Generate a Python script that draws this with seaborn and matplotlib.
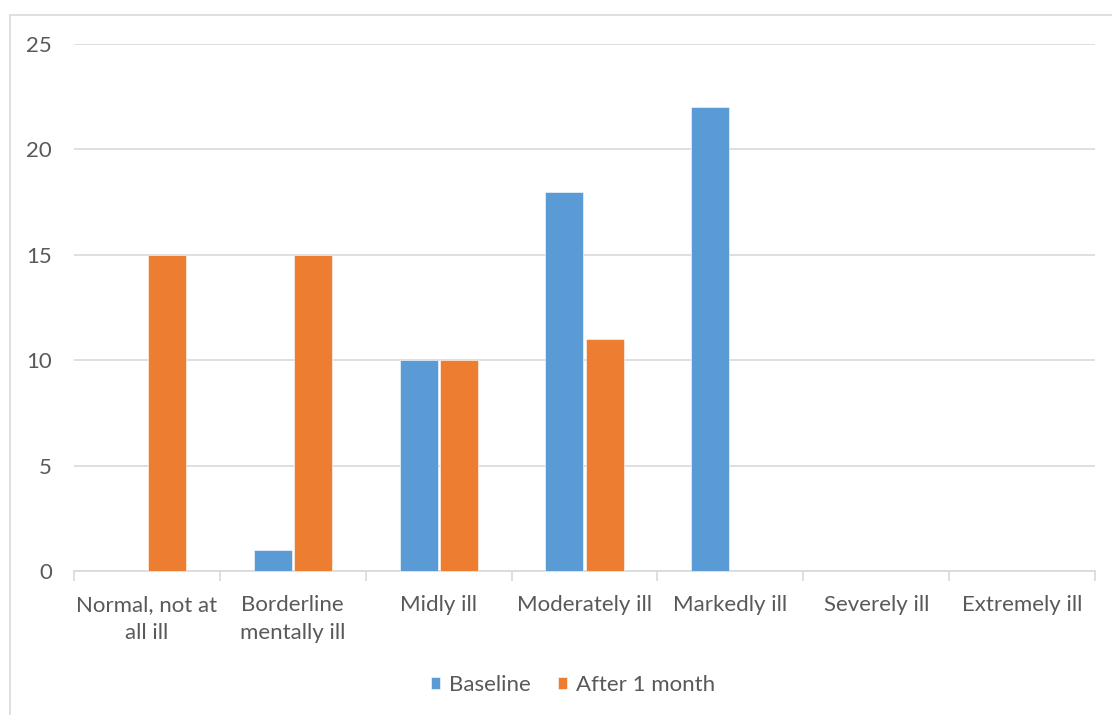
import matplotlib
matplotlib.use("Agg")
import matplotlib.pyplot as plt
from matplotlib.patches import Rectangle
import seaborn as sns
import pandas as pd
import numpy as np

# Severity categories and patient counts per assessment
categories = ["Normal, not at\nall ill", "Borderline\nmentally ill", "Midly ill",
              "Moderately ill", "Markedly ill", "Severely ill", "Extremely ill"]
baseline = [0, 1, 10, 18, 22, 0, 0]
after_1_month = [15, 15, 10, 11, 0, 0, 0]
series_names = ["Baseline", "After 1 month"]
y_ticks = [0, 5, 10, 15, 20, 25]

colors = {"Baseline": "#5B9BD5", "After 1 month": "#ED7D31"}
text_color = "#595959"
grid_color = "#D9D9D9"

df = pd.DataFrame({
    "category": categories * 2,
    "series": [series_names[0]] * len(categories) + [series_names[1]] * len(categories),
    "value": baseline + after_1_month,
})

sns.set_theme(style="white")
plt.rcParams["font.family"] = ["Lato", "DejaVu Sans"]

fig = plt.figure(figsize=(11.12, 7.15), dpi=100)
ax = fig.add_axes([74 / 1112, 1 - 571 / 715, (1095 - 74) / 1112, (571 - 44) / 715])

# Outer chart frame
fig.patches.append(Rectangle((10 / 1112, -0.1), 1.2, 1 - 15 / 715 + 0.1,
                             transform=fig.transFigure, fill=False,
                             edgecolor="#D9D9D9", linewidth=1.2, zorder=0))

sns.barplot(data=df, x="category", y="value", hue="series", order=categories,
            hue_order=series_names, palette=colors, saturation=1, width=0.55, gap=0.05,
            edgecolor="white", linewidth=0.4, ax=ax, legend=True, zorder=3)

ax.set_xlim(-0.5, len(categories) - 0.5)
ax.set_ylim(0, 25)
ax.set_yticks(y_ticks)
ax.set_yticklabels([str(t) for t in y_ticks])
ax.yaxis.grid(True, color=grid_color, linewidth=1.2, zorder=0)
ax.set_axisbelow(True)
ax.set_xlabel("")
ax.set_ylabel("")

for side in ["top", "right", "left"]:
    ax.spines[side].set_visible(False)
ax.spines["bottom"].set_color(grid_color)
ax.spines["bottom"].set_linewidth(1.2)

# Tick marks on category boundaries, labels centered in each category
ax.set_xticks(np.arange(-0.5, len(categories), 1.0), minor=True)
ax.tick_params(axis="x", which="minor", length=7, width=1.2, color=grid_color, bottom=True)
ax.tick_params(axis="x", which="major", length=0, pad=17, labelsize=16, labelcolor=text_color)
ax.tick_params(axis="y", length=0, pad=16, labelsize=16, labelcolor=text_color)
for lbl in ax.get_xticklabels():
    lbl.set_linespacing(1.55)
for lbl in ax.get_yticklabels():
    lbl.set_horizontalalignment("right")

leg = ax.legend(loc="center", bbox_to_anchor=(573 / 1112, (715 - 685) / 715), bbox_transform=fig.transFigure,
                ncol=2, frameon=False, fontsize=16, handlelength=0.42, handleheight=0.42,
                handletextpad=0.4, columnspacing=1.2, labelcolor=text_color)

fig.savefig("out.png", dpi=100, facecolor="white")
